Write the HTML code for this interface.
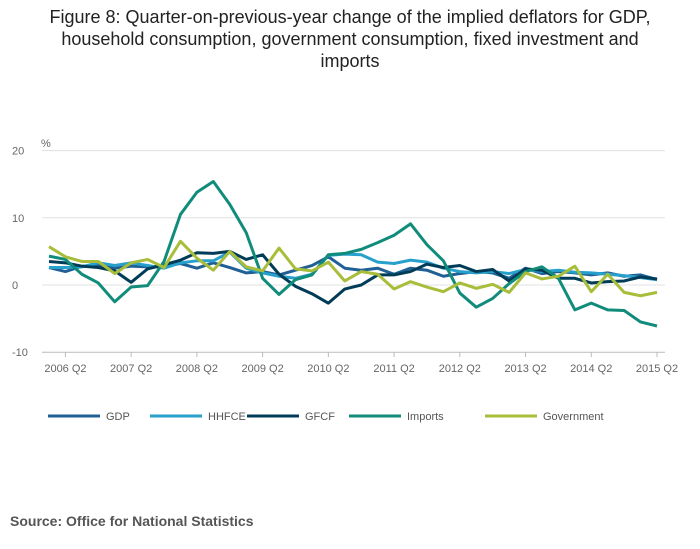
<!DOCTYPE html>
<html><head><meta charset="utf-8"><style>
body{margin:0;background:#fff;font-family:"Liberation Sans",sans-serif;}
#wrap{position:relative;width:700px;height:549px;overflow:hidden;}
#title{position:absolute;left:0;top:6px;width:700px;text-align:center;font-size:18px;line-height:22px;color:#222;}
#src{position:absolute;left:10px;top:513px;font-size:14px;font-weight:bold;color:#555;}
</style></head><body>
<div id="wrap">
<div id="title">Figure 8: Quarter-on-previous-year change of the implied deflators for GDP,<br>household consumption, government consumption, fixed investment and<br>imports</div>
<svg id="chart" width="700" height="549" style="position:absolute;left:0;top:0"></svg>
<div id="src">Source: Office for National Statistics</div>
</div>
<script>
const xLabels=["2006 Q2","2007 Q2","2008 Q2","2009 Q2","2010 Q2","2011 Q2","2012 Q2","2013 Q2","2014 Q2","2015 Q2"];
const yTicks=[20,10,0,-10];
const seriesNames=["GDP","HHFCE","GFCF","Imports","Government"];
const seriesColors=["#206095","#27a0cc","#003c57","#118c7b","#a8bd3a"];
const gdp=[2.6,2.0,2.8,3.0,2.5,2.8,2.7,2.8,3.2,2.5,3.3,2.6,1.8,2.0,1.5,2.2,2.9,4.2,2.5,2.2,2.5,1.6,2.5,2.2,1.3,1.7,2.0,1.8,1.0,2.5,1.7,2.0,1.8,1.5,1.8,1.3,1.5,0.8];
const hhfce=[2.6,2.6,2.7,3.3,2.9,3.3,2.9,2.5,3.3,3.6,3.6,4.9,2.5,1.8,1.3,1.0,1.6,4.4,4.6,4.5,3.4,3.2,3.7,3.4,2.5,2.0,1.8,2.0,1.7,2.3,2.0,2.2,1.9,1.8,1.6,1.4,1.1,0.8];
const gfcf=[3.5,3.3,2.8,2.6,2.1,0.4,2.4,3.0,3.7,4.8,4.7,5.0,3.8,4.5,1.6,-0.2,-1.3,-2.7,-0.6,0.0,1.5,1.5,2.0,3.1,2.6,2.9,2.0,2.3,0.6,2.4,2.2,1.0,1.0,0.3,0.5,0.6,1.2,0.9];
const imports=[4.3,3.8,1.6,0.3,-2.5,-0.3,-0.1,3.5,10.5,13.8,15.4,12,7.8,1.0,-1.4,0.8,1.5,4.5,4.7,5.3,6.3,7.4,9.1,6,3.6,-1.2,-3.3,-2,0.2,2,2.7,1,-3.7,-2.7,-3.7,-3.8,-5.5,-6.1];
const government=[5.7,4.2,3.5,3.5,1.7,3.3,3.8,2.6,6.5,4.0,2.2,5.0,2.7,2.1,5.5,2.4,2.1,3.4,0.6,2.0,1.6,-0.6,0.5,-0.3,-1.0,0.3,-0.5,0.1,-1.1,1.8,0.9,1.3,2.8,-1.0,1.6,-1.1,-1.6,-1.1];
const allSeries=[gdp,hhfce,gfcf,imports,government];

const svg=document.getElementById('chart');const NS="http://www.w3.org/2000/svg";
const X=i=>49+i*(657-49)/37;
const Y=v=>285-v*6.72;
function mk(t,a){const e=document.createElementNS(NS,t);for(const k in a)e.setAttribute(k,a[k]);svg.appendChild(e);return e;}
yTicks.forEach(v=>{
 const l=mk('line',{x1:42,x2:665,y1:Y(v),y2:Y(v),stroke:v===-10?'#bbb':'#e0e0e0','stroke-width':1});
 
 
 const t=mk('text',{x:12,y:Y(v)+4,'font-size':11,fill:'#666'});t.textContent=v;
 
 
});
const pct=mk('text',{x:41,y:147,'font-size':11,fill:'#666'});pct.textContent='%';


xLabels.forEach((lab,j)=>{
 const x=X(1+4*j);
 const tk=mk('line',{x1:x,x2:x,y1:352,y2:357,stroke:'#bbb'});
 
 
 const t=mk('text',{x:x,y:372,'font-size':11,fill:'#666','text-anchor':'middle'});t.textContent=lab;
 
 
});
allSeries.forEach((s,k)=>{
 const p=mk('polyline',{points:s.map((v,i)=>X(i)+','+Y(v)).join(' '),fill:'none',stroke:seriesColors[k],'stroke-width':3,'stroke-linejoin':'round'});
 
 
});
const legX=[48,150,247,349,485];
seriesNames.forEach((n,k)=>{
 const l=mk('line',{x1:legX[k],x2:legX[k]+52,y1:416,y2:416,stroke:seriesColors[k],'stroke-width':3});
 
 
 const t=mk('text',{x:legX[k]+58,y:420,'font-size':11,fill:'#555'});t.textContent=n;
 
 
});
</script>
</body></html>
